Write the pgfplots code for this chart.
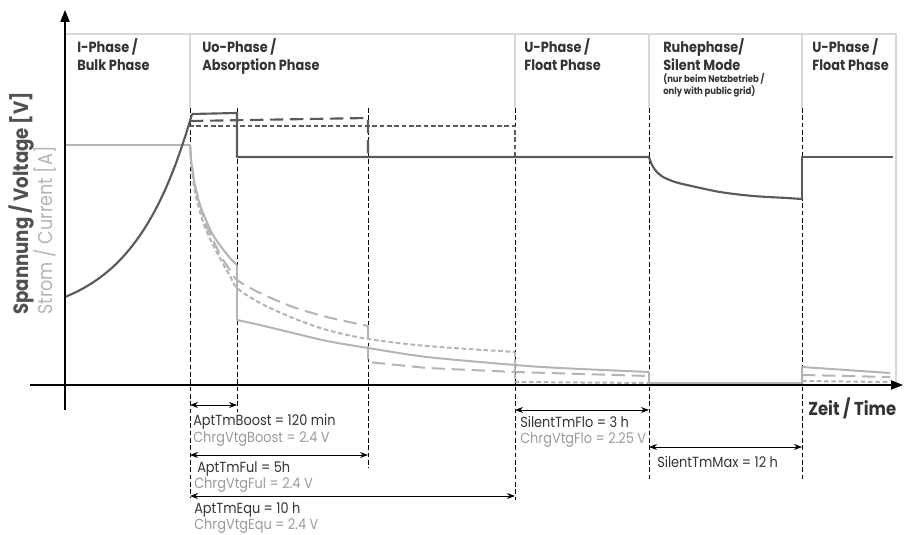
\documentclass[border=0pt]{standalone}
\usepackage{fontspec}
\setmainfont{Poppins}[FakeStretch=0.88]
\usepackage{pgfplots}
\pgfplotsset{compat=1.18}
\usetikzlibrary{arrows.meta}

\definecolor{volt}{HTML}{5A5A5A}
\definecolor{curr}{HTML}{B4B4B4}
\definecolor{frame}{HTML}{D8D8D8}
\definecolor{lbl}{HTML}{9A9A9A}
\definecolor{ink}{HTML}{333333}

\begin{document}
\begin{tikzpicture}
\begin{axis}[
    x=0.75pt, y=0.75pt,
    xmin=0, xmax=904, ymin=0, ymax=535,
    y dir=reverse,
    hide axis, clip=false,
    every axis plot/.append style={line join=round},
    vline/.style={black, line width=0.75pt, dash pattern=on 3.5pt off 2pt},
    dim/.style={black, line width=0.7pt, {Stealth[length=6pt,width=4.5pt]}-{Stealth[length=6pt,width=4.5pt]}},
    ldash/.style={dash pattern=on 10pt off 5pt},
    sdash/.style={dash pattern=on 3.5pt off 2pt},
]
% page corners
\addplot[draw=none] coordinates {(0,0) (904,535)};

% phase frame
\addplot[frame, line width=0.8pt] coordinates {(65,34) (896,34) (896,385)};
\addplot[frame, line width=0.8pt] coordinates {(190,34) (190,108)};
\addplot[frame, line width=0.8pt] coordinates {(515,34) (515,108)};
\addplot[frame, line width=0.8pt] coordinates {(649,34) (649,108)};
\addplot[frame, line width=0.8pt] coordinates {(802,34) (802,108)};

% dashed phase boundaries
\addplot[vline] coordinates {(190,108) (190,498)};
\addplot[vline] coordinates {(237,108) (237,412)};
\addplot[vline] coordinates {(368,108) (368,468)};
\addplot[vline] coordinates {(515,108) (515,500)};
\addplot[vline] coordinates {(649,108) (649,480)};
\addplot[vline] coordinates {(802,108) (802,480)};

% current (light)
\addplot[curr, line width=1.5pt] coordinates {(65,145) (190,145)};
\addplot[curr, line width=1.5pt, smooth] coordinates {
    (190,145) (191,160) (193,175) (196,190) (200,205) (206,220)
    (213,235) (222,248) (230,258) (237,265)};
\addplot[curr, line width=1.5pt] coordinates {(237,265) (237,320)};
\addplot[curr, line width=1.5pt, smooth] coordinates {
    (237,320) (260,325) (293,333) (327,341) (368,348) (427,357)
    (515,365) (560,368) (649,372)};
\addplot[curr, line width=1.5pt] coordinates {(649,372) (649,383) (802,383) (802,367) (890,373)};
\addplot[curr, line width=1.5pt, ldash, smooth] coordinates {
    (190,145) (192,165) (195,185) (200,205) (206,225) (213,240)
    (222,258) (230,270) (237,280) (260,293) (293,307) (327,317) (368,326)};
\addplot[curr, line width=1.5pt, ldash] coordinates {(368,326) (368,362) (427,368) (515,372) (649,376)};
\addplot[curr, line width=1.5pt, ldash] coordinates {(802,375) (890,377)};
\addplot[curr, line width=1.5pt, sdash, smooth] coordinates {
    (190,145) (192,170) (195,192) (200,212) (206,230) (213,245)
    (222,262) (230,276) (237,288) (260,303) (293,318) (327,330)
    (368,339) (427,346) (515,352)};
\addplot[curr, line width=1.5pt, sdash] coordinates {(515,352) (515,382) (649,383)};
\addplot[curr, line width=1.5pt, sdash] coordinates {(802,381) (890,382)};

% voltage (dark)
\addplot[volt, line width=1.6pt, smooth] coordinates {
    (65,297) (75,292.6) (85,287.3) (95,281.1) (105,273.7) (115,265)
    (125,254.6) (135,242.3) (145,227.8) (155,210.5) (165,190.1)
    (175,165.8) (185,137.1) (192,114)};
\addplot[volt, line width=1.6pt] coordinates {(192,114) (237,113) (237,157) (649,157)};
\addplot[volt, line width=1.6pt, smooth] coordinates {
    (649,157) (652,165) (656,171) (663,177) (675,182) (687,185)
    (720,192) (753,196) (787,198) (801,199)};
\addplot[volt, line width=1.6pt] coordinates {(801,199) (802,199) (802,157) (893,157)};
\addplot[volt, line width=1.6pt, ldash] coordinates {(190,121) (368,118) (368,157)};
\addplot[volt, line width=1.6pt, sdash] coordinates {(189,126) (515,126) (515,157)};

% axes
\addplot[black, line width=0.9pt, -{Triangle[length=9pt,width=7pt]}] coordinates {(65,410) (65,10)};
\addplot[black, line width=0.9pt, -{Triangle[length=9pt,width=7pt]}] coordinates {(30,385) (903,385)};

% time spans
\addplot[dim] coordinates {(190,405) (237,405)};
\addplot[dim] coordinates {(190,455) (368,455)};
\addplot[dim] coordinates {(190,496) (515,496)};
\addplot[dim] coordinates {(515,410) (649,410)};
\addplot[dim] coordinates {(649,447) (802,447)};

% phase labels
\begin{scope}[every node/.style={anchor=base west, inner sep=0pt, text=ink,
    font=\fontsize{11}{12}\selectfont\bfseries}]
\node at (axis cs:77,53) {I-Phase /};
\node at (axis cs:77,71) {Bulk Phase};
\node at (axis cs:202,53) {Uo-Phase /};
\node at (axis cs:202,71) {Absorption Phase};
\node at (axis cs:524,53) {U-Phase /};
\node at (axis cs:524,71) {Float Phase};
\node at (axis cs:663,53) {Ruhephase/};
\node at (axis cs:663,71) {Silent Mode};
\node at (axis cs:812,53) {U-Phase /};
\node at (axis cs:812,71) {Float Phase};
\node[font=\fontsize{7.2}{8}\selectfont\bfseries] at (axis cs:663,83) {(nur beim Netzbetrieb /};
\node[font=\fontsize{7.2}{8}\selectfont\bfseries] at (axis cs:663,95) {only with public grid)};
\end{scope}

% span labels
\begin{scope}[every node/.style={anchor=base west, inner sep=0pt,
    font=\fontsize{11}{12}\selectfont}]
\node[text=ink] at (axis cs:193,425) {AptTmBoost = 120 min};
\node[text=lbl] at (axis cs:193,442) {ChrgVtgBoost = 2.4 V};
\node[text=ink] at (axis cs:197,472) {AptTmFul = 5h};
\node[text=lbl] at (axis cs:194,488) {ChrgVtgFul = 2.4 V};
\node[text=ink] at (axis cs:194,513) {AptTmEqu = 10 h};
\node[text=lbl] at (axis cs:194,529) {ChrgVtgEqu = 2.4 V};
\node[text=ink] at (axis cs:520,427) {SilentTmFlo = 3 h};
\node[text=lbl] at (axis cs:520,443) {ChrgVtgFlo = 2.25 V};
\node[text=ink] at (axis cs:657,467) {SilentTmMax = 12 h};
\end{scope}

% axis titles
\node[anchor=base west, inner sep=0pt, text=ink, font=\fontsize{14}{16}\selectfont\bfseries]
    at (axis cs:808,415) {Zeit / Time};
\node[anchor=base west, inner sep=0pt, rotate=90, text=volt!90!black, font=\fontsize{15.5}{17}\selectfont\bfseries]
    at (axis cs:28,315) {Spannung / Voltage [V]};
\node[anchor=base west, inner sep=0pt, rotate=90, text=curr, font=\fontsize{15}{17}\selectfont]
    at (axis cs:52,315) {Strom / Current [A]};
\end{axis}
\end{tikzpicture}
\end{document}
